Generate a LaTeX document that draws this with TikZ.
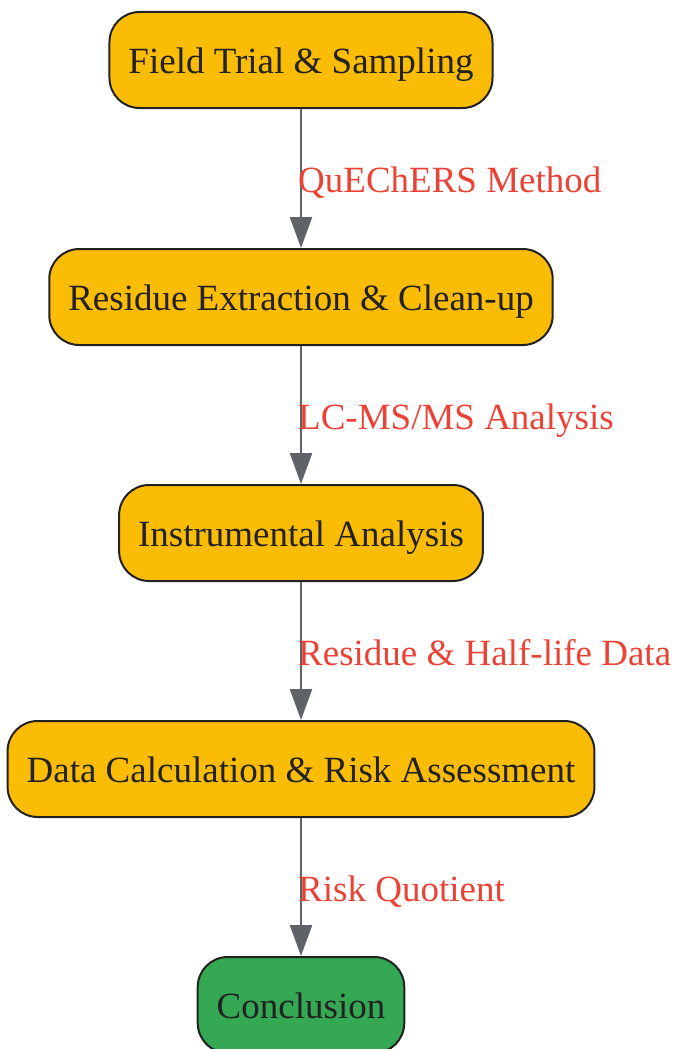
\documentclass[tikz,border=0pt]{standalone}
\usepackage{fontspec}
\setmainfont{Liberation Serif}
\usetikzlibrary{arrows.meta}

\definecolor{stepfill}{RGB}{250,188,5}
\definecolor{endfill}{RGB}{52,168,83}
\definecolor{edgegray}{RGB}{95,99,104}
\definecolor{labelred}{RGB}{234,67,53}
\definecolor{textdark}{RGB}{34,34,34}

\tikzset{
    stepbox/.style={draw=textdark, line width=2pt, fill=stepfill, rounded corners=30pt,
        minimum height=96pt, inner xsep=19pt, text height=33pt, text depth=6pt,
        text=textdark, font=\fontsize{37}{44}\selectfont},
    endbox/.style={stepbox, fill=endfill},
    flow/.style={draw=edgegray, line width=2.4pt, -{Triangle[length=31pt,width=22pt]}},
    flowlabel/.style={anchor=base west, inner sep=0pt, xshift=-4pt, yshift=-14pt,
        text=labelred, font=\fontsize{37}{44}\selectfont}
}

\begin{document}
\begin{tikzpicture}[x=1pt,y=-1pt]
    \useasboundingbox (0,0) rectangle (678,1049);

    % process steps
    \node[stepbox] (trial)   at (301,60)   {Field Trial \& Sampling};
    \node[stepbox] (extract) at (301,297)  {Residue Extraction \& Clean-up};
    \node[stepbox] (instr)   at (301,533)  {Instrumental Analysis};
    \node[stepbox] (calc)    at (301,769)  {Data Calculation \& Risk Assessment};
    \node[endbox]  (concl)   at (301,1005) {Conclusion};

    % connectors
    \draw[flow] (trial)   -- node[flowlabel] {QuEChERS Method} (extract);
    \draw[flow] (extract) -- node[flowlabel] {LC-MS/MS Analysis} (instr);
    \draw[flow] (instr)   -- node[flowlabel] {Residue \& Half-life Data} (calc);
    \draw[flow] (calc)    -- node[flowlabel] {Risk Quotient} (concl);
\end{tikzpicture}
\end{document}
